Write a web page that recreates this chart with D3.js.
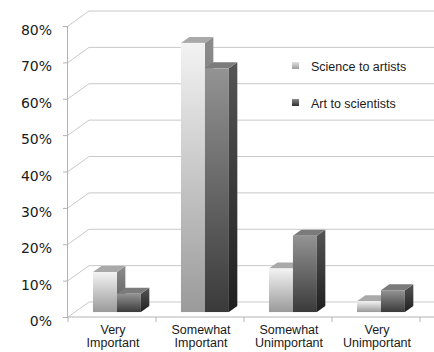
<!DOCTYPE html>
<html>
<head>
<meta charset="utf-8">
<script src="https://cdn.jsdelivr.net/npm/d3@7"></script>
<style>
  html, body { margin: 0; padding: 0; background: #ffffff; }
  svg { display: block; }
</style>
</head>
<body>
<script>
// Survey answers, percent of respondents
const categories = ["Very Important", "Somewhat Important", "Somewhat Unimportant", "Very Unimportant"];
const seriesNames = ["Science to artists", "Art to scientists"];
const scienceToArtists = [11, 74, 12, 3];
const artToScientists = [5, 67, 21, 6];
const yTicks = [0, 10, 20, 30, 40, 50, 60, 70, 80];

const W = 434, H = 352;
const svg = d3.select("body").append("svg").attr("width", W).attr("height", H);

// front plane of the 3D box and the depth offset of its back wall
const plotLeft = 68, plotRight = 420, plotBottom = 317, plotTop = 26;
const DX = 21, DY = -15;
const barFront = 0.33, barBack = 0.73;   // bars sit in the middle of the floor depth

const y = d3.scaleLinear().domain([0, 80]).range([plotBottom, plotTop]);
const x0 = d3.scaleBand().domain(categories).range([plotLeft, plotRight]).padding(0);
const x1 = d3.scaleBand().domain(seriesNames)
  .range([x0.bandwidth() * 0.205, x0.bandwidth() * 0.75]).padding(0);

const defs = svg.append("defs");
function vGrad(id, c0, c1) {
  const g = defs.append("linearGradient").attr("id", id)
    .attr("x1", 0).attr("y1", 0).attr("x2", 0).attr("y2", 1);
  g.append("stop").attr("offset", "0%").attr("stop-color", c0);
  g.append("stop").attr("offset", "100%").attr("stop-color", c1);
}
vGrad("lightFront", "#f3f3f3", "#9a9a9a");
vGrad("lightSide", "#8c8c8c", "#555555");
vGrad("darkFront", "#939393", "#3a3a3a");
vGrad("darkSide", "#555555", "#1f1f1f");
vGrad("lightKey", "#e2e2e2", "#9c9c9c");
vGrad("darkKey", "#8a8a8a", "#2e2e2e");

const styles = {
  "Science to artists": { front: "url(#lightFront)", side: "url(#lightSide)", top: "#a9a9a9", key: "url(#lightKey)" },
  "Art to scientists": { front: "url(#darkFront)", side: "url(#darkSide)", top: "#7b7b7b", key: "url(#darkKey)" }
};

const gridColor = "#c9c9c9", axisColor = "#b3b3b3";
const grid = svg.append("g");

// back wall gridlines and the left wall diagonals
yTicks.forEach(t => {
  const yy = y(t);
  grid.append("line").attr("x1", plotLeft + DX).attr("y1", yy + DY).attr("x2", W).attr("y2", yy + DY)
    .attr("stroke", gridColor).attr("stroke-width", 1);
  grid.append("line").attr("x1", plotLeft).attr("y1", yy).attr("x2", plotLeft + DX).attr("y2", yy + DY)
    .attr("stroke", gridColor).attr("stroke-width", 1);
});

// front floor edge
grid.append("line").attr("x1", plotLeft).attr("y1", plotBottom).attr("x2", plotRight + DX).attr("y2", plotBottom)
  .attr("stroke", axisColor);

// y axis
const yAxis = d3.axisLeft(y).tickValues(yTicks).tickFormat(d => d + "%").tickSize(5).tickPadding(11);
const ya = svg.append("g").attr("transform", `translate(${plotLeft},0)`).call(yAxis);
ya.select(".domain").attr("stroke", axisColor).attr("d", `M-0.5,${plotTop}V${plotBottom}`);
ya.selectAll(".tick line").attr("stroke", axisColor);
ya.selectAll(".tick text")
  .attr("font-family", "'DejaVu Sans', Verdana, sans-serif")
  .attr("font-size", 14).attr("fill", "#1a1a1a").attr("dy", "0.9em").attr("y", -4);

// category axis with ticks between groups
const xa = svg.append("g").attr("transform", `translate(0,${plotBottom})`);
const boundaries = categories.map(c => x0(c)).concat([x0(categories[categories.length - 1]) + x0.bandwidth()]);
boundaries.forEach(bx => {
  xa.append("line").attr("x1", bx).attr("x2", bx).attr("y1", 0).attr("y2", 5).attr("stroke", axisColor);
});
categories.forEach(c => {
  const i = c.indexOf(" ");
  const lines = [c.slice(0, i), c.slice(i + 1)];
  const cx = x0(c) + x0.bandwidth() / 2 + 1;
  const t = xa.append("text")
    .attr("text-anchor", "middle")
    .attr("font-family", "'Liberation Sans', Arial, sans-serif")
    .attr("font-size", 12.5).attr("fill", "#1a1a1a");
  lines.forEach((ln, k) => t.append("tspan").attr("x", cx).attr("y", 17 + k * 13).text(ln));
});

// 3D bars, drawn left to right so each bar covers its neighbour's side face
const fdx = DX * barFront, fdy = DY * barFront;
const bdx = DX * (barBack - barFront), bdy = DY * (barBack - barFront);
const bars = svg.append("g");
const seriesValues = [scienceToArtists, artToScientists];

categories.forEach((c, ci) => {
  seriesNames.forEach((s, si) => {
    const v = seriesValues[si][ci];
    const xl = x0(c) + x1(s) + fdx;
    const xr = xl + x1.bandwidth();
    const yt = y(v) + fdy;
    const yb = y(0) + fdy;
    const st = styles[s];
    const g = bars.append("g");
    g.append("path")
      .attr("d", `M${xr},${yt}L${xr + bdx},${yt + bdy}L${xr + bdx},${yb + bdy}L${xr},${yb}Z`)
      .attr("fill", st.side);
    g.append("path")
      .attr("d", `M${xl},${yt}L${xl + bdx},${yt + bdy}L${xr + bdx},${yt + bdy}L${xr},${yt}Z`)
      .attr("fill", st.top);
    g.append("rect").attr("x", xl).attr("y", yt).attr("width", xr - xl).attr("height", yb - yt)
      .attr("fill", st.front);
  });
});

// legend
const legend = svg.append("g");
seriesNames.forEach((s, i) => {
  const ly = 66 + i * 37;
  legend.append("rect").attr("x", 292).attr("y", ly - 4).attr("width", 7).attr("height", 7)
    .attr("fill", styles[s].key);
  legend.append("text").attr("x", 311).attr("y", ly + 4.5)
    .attr("font-family", "'Liberation Sans', Arial, sans-serif")
    .attr("font-size", 12.5).attr("fill", "#1a1a1a").text(s);
});
</script>
</body>
</html>
